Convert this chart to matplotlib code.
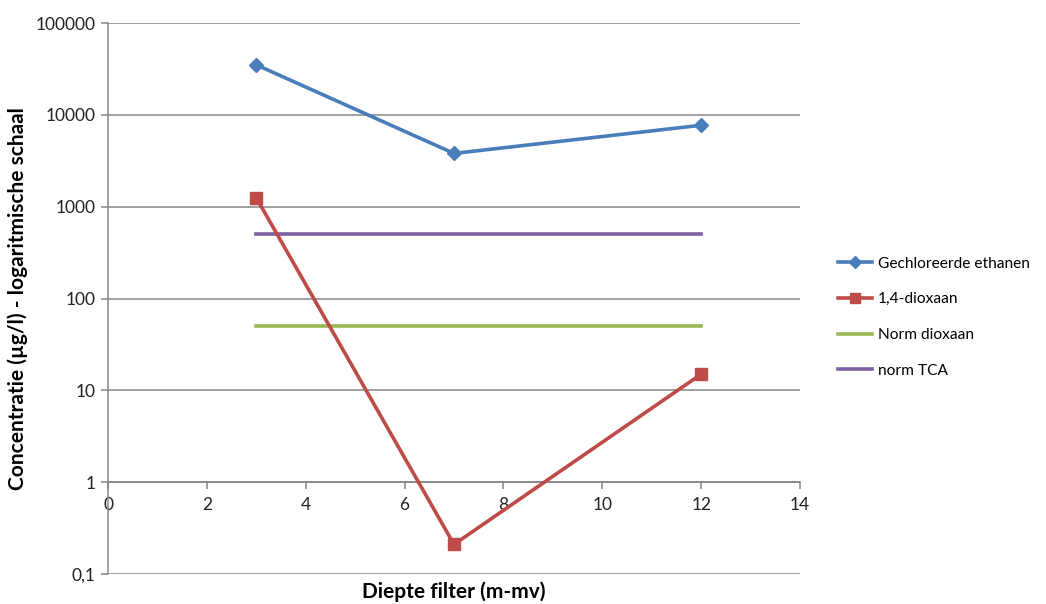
import numpy as np
import matplotlib.pyplot as plt
from matplotlib.ticker import FixedLocator, FixedFormatter, NullLocator

plt.rcParams['font.family'] = ['Lato', 'DejaVu Sans']

# data
depth = [3, 7, 12]
ethanen = [35000, 3800, 7700]
dioxaan = [1250, 0.21, 15]
norm_dioxaan = [50, 50, 50]
norm_tca = [500, 500, 500]

y_ticks = [0.1, 1, 10, 100, 1000, 10000, 100000]
y_labels = ['0,1', '1', '10', '100', '1000', '10000', '100000']
x_ticks = [0, 2, 4, 6, 8, 10, 12, 14]

grid_col = '#868686'

fig = plt.figure(figsize=(10.46, 6.04), dpi=100)
ax = fig.add_axes([108 / 1046, 1 - 574 / 604, (800 - 108) / 1046, (574 - 23) / 604])

ax.plot(depth, ethanen, color='#4A7EBB', lw=2.6, marker='D', ms=7.5, label='Gechloreerde ethanen', zorder=4)
ax.plot(depth, dioxaan, color='#BE4B48', lw=2.6, marker='s', ms=9, label='1,4-dioxaan', zorder=4)
ax.plot(depth, norm_dioxaan, color='#98B954', lw=2.6, label='Norm dioxaan', zorder=3)
ax.plot(depth, norm_tca, color='#7D60A0', lw=2.6, label='norm TCA', zorder=3)

ax.set_yscale('log')
ax.set_ylim(0.1, 100000)
ax.set_xlim(0, 14)
ax.yaxis.set_major_locator(FixedLocator(y_ticks))
ax.yaxis.set_major_formatter(FixedFormatter(y_labels))
ax.yaxis.set_minor_locator(NullLocator())
ax.set_xticks(x_ticks)
ax.set_xticklabels([str(v) for v in x_ticks])

for v in y_ticks:
    ax.axhline(v, color=grid_col, lw=1.1, zorder=1)

ax.spines['top'].set_visible(False)
ax.spines['right'].set_visible(False)
ax.spines['left'].set_color(grid_col)
ax.spines['left'].set_linewidth(1.1)
ax.spines['bottom'].set_position(('data', 1))
ax.spines['bottom'].set_color(grid_col)
ax.spines['bottom'].set_linewidth(1.1)

ax.tick_params(axis='both', colors=grid_col, labelcolor='#222222', labelsize=12.5,
               direction='out', length=5, width=1.1)
ax.tick_params(axis='x', pad=6)
ax.tick_params(axis='y', pad=4)

ax.set_ylabel('Concentratie (µg/l) - logaritmische schaal', fontsize=15,
              fontweight='bold')
ax.yaxis.set_label_coords(-80 / 692, 0.5)
fig.text(454 / 1046, 1 - 592 / 604, 'Diepte filter (m-mv)', fontsize=15,
         fontweight='bold', ha='center', va='center')

ax.legend(loc='center left', bbox_to_anchor=(1.035, 0.466), frameon=False,
          fontsize=11.2, handlelength=2.2, handletextpad=0.35, labelspacing=1.4,
          markerscale=0.8)

fig.savefig('out.png', dpi=100)
